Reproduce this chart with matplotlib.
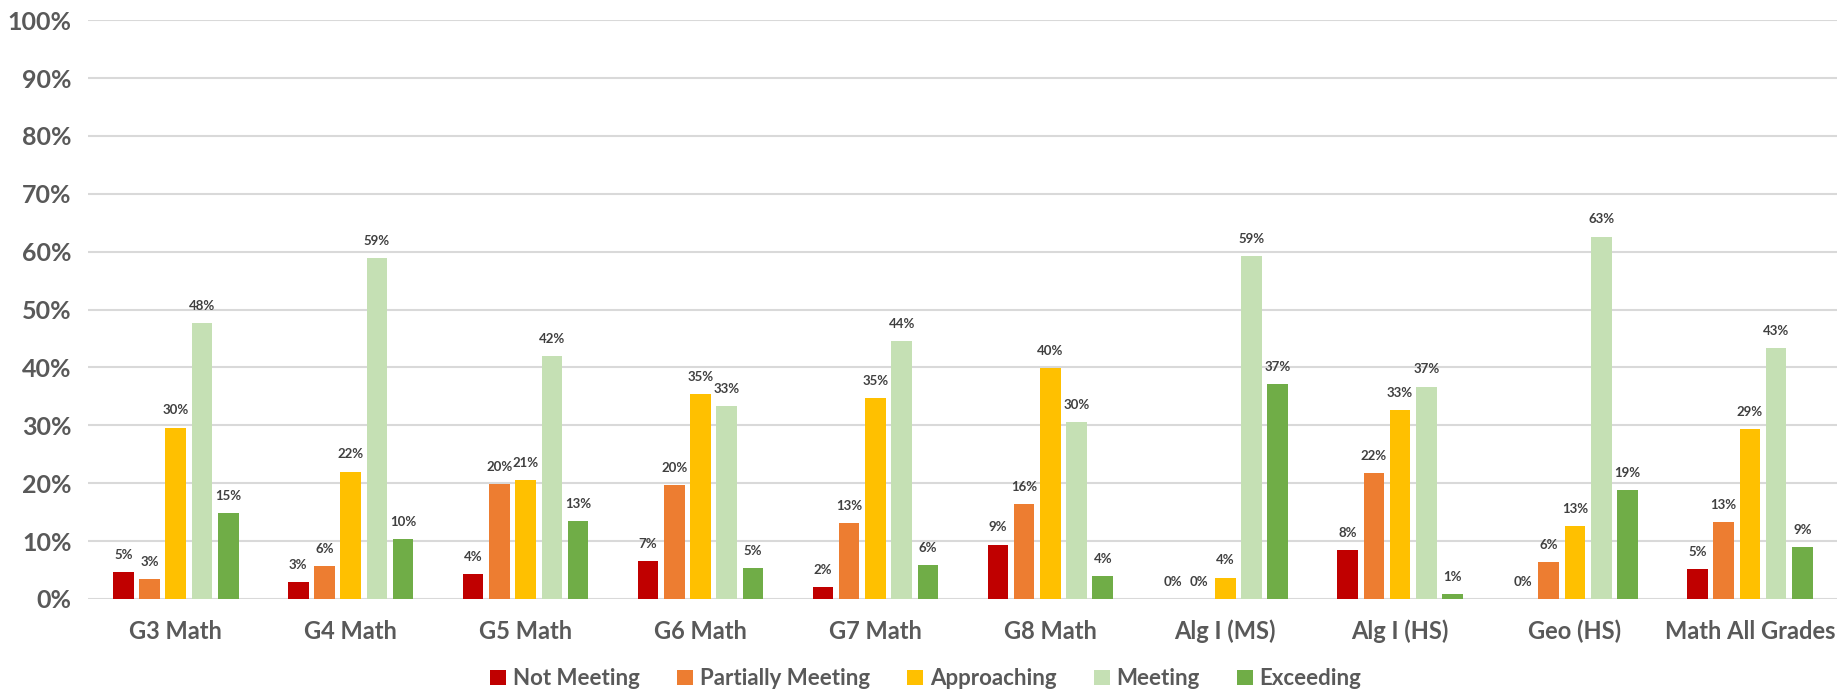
import numpy as np
import matplotlib
matplotlib.use("Agg")
from matplotlib import pyplot as plt
from matplotlib.ticker import PercentFormatter

plt.rcParams['font.family'] = ['Lato', 'DejaVu Sans']

categories = ['G3 Math', 'G4 Math', 'G5 Math', 'G6 Math', 'G7 Math', 'G8 Math',
              'Alg I (MS)', 'Alg I (HS)', 'Geo (HS)', 'Math All Grades']
series = ['Not Meeting', 'Partially Meeting', 'Approaching', 'Meeting', 'Exceeding']
colors = ['#C00000', '#ED7D31', '#FFC000', '#C5E0B4', '#70AD47']

not_meeting = [4.7, 2.9, 4.3, 6.6, 2.0, 9.4, 0.0, 8.4, 0.0, 5.1]
partially_meeting = [3.4, 5.7, 19.9, 19.7, 13.1, 16.4, 0.0, 21.7, 6.3, 13.3]
approaching = [29.6, 22.0, 20.6, 35.4, 34.7, 39.9, 3.7, 32.6, 12.6, 29.4]
meeting = [47.7, 58.9, 41.9, 33.3, 44.5, 30.5, 59.2, 36.7, 62.6, 43.4]
exceeding = [14.8, 10.4, 13.4, 5.3, 5.9, 3.9, 37.1, 0.9, 18.8, 9.0]

values = [not_meeting, partially_meeting, approaching, meeting, exceeding]

fig = plt.figure(figsize=(18.41, 6.94), dpi=100)
ax = fig.add_axes([0.048, 0.137, 0.950, 0.834])

x = np.arange(len(categories))
pitch = 0.15
width = 0.118
grey = '#595959'

for i, (name, vals, col) in enumerate(zip(series, values, colors)):
    pos = x + (i - 2) * pitch
    bars = ax.bar(pos, vals, width, color=col, label=name, zorder=3)
    for b, v in zip(bars, vals):
        ax.annotate(f'{round(v)}%', (b.get_x() + b.get_width() / 2, v),
                    xytext=(0, 8), textcoords='offset points',
                    ha='center', va='bottom', fontsize=9.5,
                    fontweight='bold', color='#404040')

ax.set_ylim(0, 100)
ax.set_xlim(-0.5, len(categories) - 0.5)
ax.set_yticks(np.arange(0, 101, 10))
ax.yaxis.set_major_formatter(PercentFormatter(decimals=0))
ax.grid(axis='y', color='#D9D9D9', linewidth=1.5, zorder=0)
ax.set_axisbelow(True)
for s in ax.spines.values():
    s.set_visible(False)

ax.set_xticks(x)
ax.set_xticklabels(categories)
ax.tick_params(axis='both', length=0, labelcolor=grey)
ax.tick_params(axis='y', pad=12, labelsize=18)
ax.tick_params(axis='x', pad=15, labelsize=17)
for t in ax.get_xticklabels() + ax.get_yticklabels():
    t.set_fontweight('bold')

leg = fig.legend(loc='center', bbox_to_anchor=(0.503, 0.022), ncol=5, frameon=False,
                 fontsize=16, handlelength=0.7, handleheight=0.7,
                 handletextpad=0.3, columnspacing=1.7)
for t in leg.get_texts():
    t.set_color(grey)
    t.set_fontweight('bold')

fig.savefig('out.png', dpi=100)
